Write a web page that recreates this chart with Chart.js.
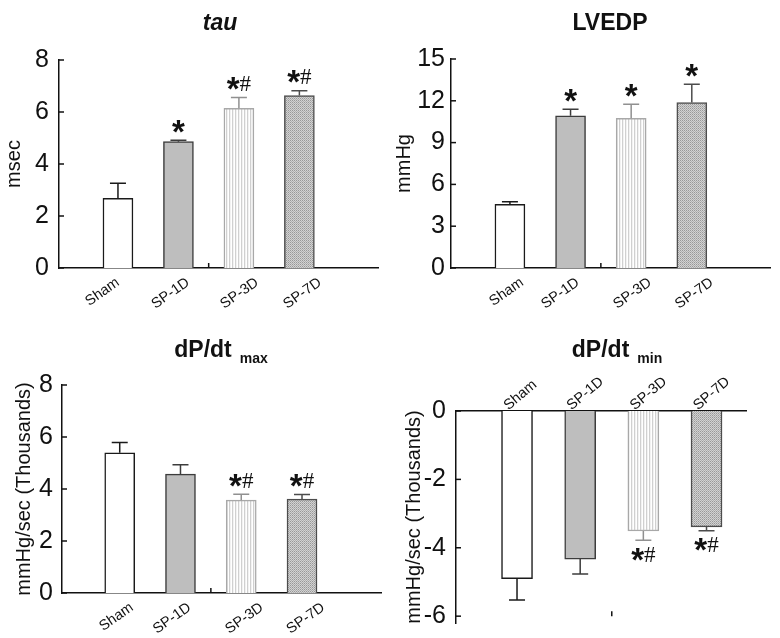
<!DOCTYPE html>
<html><head><meta charset="utf-8">
<script src="https://cdn.jsdelivr.net/npm/chart.js@4.4.0/dist/chart.umd.min.js"></script>
<style>
html,body{margin:0;padding:0;background:#fff;}
#wrap{position:relative;width:780px;height:638px;overflow:hidden;}
canvas{position:absolute;}
</style></head><body>
<div id="wrap">
<canvas id="c1" width="390" height="319" style="left:0;top:0"></canvas>
<canvas id="c2" width="390" height="319" style="left:390px;top:0"></canvas>
<canvas id="c3" width="390" height="319" style="left:0;top:319px"></canvas>
<canvas id="c4" width="390" height="330" style="left:390px;top:319px"></canvas>
</div>
<script>
// ---- data ----
const categories = ['Sham', 'SP-1D', 'SP-3D', 'SP-7D'];

const tauValues = [2.68, 4.86, 6.14, 6.63];
const tauErrors = [0.58, 0.05, 0.42, 0.19];
const tauMarks = ['', '*', '*#', '*#'];
const tauTicks = [0, 2, 4, 6, 8];

const lvedpValues = [4.57, 10.93, 10.74, 11.87];
const lvedpErrors = [0.19, 0.46, 1.01, 1.32];
const lvedpMarks = ['', '*', '*', '*'];
const lvedpTicks = [0, 3, 6, 9, 12, 15];

const dpdtMaxValues = [5.39, 4.57, 3.57, 3.61];
const dpdtMaxErrors = [0.40, 0.36, 0.23, 0.18];
const dpdtMaxMarks = ['', '', '*#', '*#'];
const dpdtMaxTicks = [0, 2, 4, 6, 8];

const dpdtMinValues = [-4.90, -4.33, -3.51, -3.39];
const dpdtMinErrors = [0.63, 0.44, 0.27, 0.11];
const dpdtMinMarks = ['', '', '*#', '*#'];
const dpdtMinTicks = [-6, -4, -2, 0];

// ---- styles ----
Chart.defaults.font.family = '"Liberation Sans", Arial, sans-serif';
Chart.defaults.color = '#111';

function makePattern(w, h, pixels) {
  const c = document.createElement('canvas');
  c.width = w; c.height = h;
  const g = c.getContext('2d');
  for (let y = 0; y < h; y++) for (let x = 0; x < w; x++) {
    g.fillStyle = pixels[y * w + x];
    g.fillRect(x, y, 1, 1);
  }
  return g.createPattern(c, 'repeat');
}
const stripePattern = makePattern(3, 1, ['#ffffff', '#d0d0d0', '#f2f2f2']);
const dotPattern = makePattern(2, 2, ['#989898', '#d2d2d2', '#d2d2d2', '#b0b0b0']);

const barFills = ['#ffffff', '#bebebe', stripePattern, dotPattern];
const barBorders = ['#1a1a1a', '#3c3c3c', '#a8a8a8', '#4c4c4c'];
const errColors = ['#1a1a1a', '#3c3c3c', '#909090', '#4c4c4c'];

function extrasPlugin(cfg) {
  return {
    id: 'extras',
    afterDatasetsDraw(chart) {
      const ctx = chart.ctx;
      const xs = chart.scales.x, ys = chart.scales.y;
      const area = chart.chartArea;
      const meta = chart.getDatasetMeta(0);
      ctx.save();
      // inward y ticks
      ctx.strokeStyle = '#111'; ctx.lineWidth = 1.5;
      cfg.yTicks.forEach(t => {
        const y = ys.getPixelForValue(t);
        ctx.beginPath(); ctx.moveTo(area.left, y); ctx.lineTo(area.left + 5, y); ctx.stroke();
      });
      // minor x tick
      const mx = xs.getPixelForValue(2.5);
      const my = ys.getPixelForValue(cfg.minorAt);
      ctx.beginPath(); ctx.moveTo(mx, my); ctx.lineTo(mx, my - 5); ctx.stroke();
      // error bars + marks
      meta.data.forEach((bar, i) => {
        const v = cfg.values[i], e = cfg.errors[i];
        const dir = v >= 0 ? 1 : -1;
        const yEnd = ys.getPixelForValue(v + dir * e);
        const x = bar.x;
        ctx.strokeStyle = errColors[i]; ctx.lineWidth = 1.5;
        ctx.beginPath();
        ctx.moveTo(x, bar.y); ctx.lineTo(x, yEnd);
        ctx.moveTo(x - 8, yEnd); ctx.lineTo(x + 8, yEnd);
        ctx.stroke();
        const mark = cfg.marks[i];
        if (!mark) return;
        const cy = yEnd - dir * 14;
        const parts = mark.split('').map(ch => ({
          ch, font: ch === '*' ? 'bold 33px "Liberation Sans"' : '23px "Liberation Serif"'
        }));
        parts.forEach(p => { ctx.font = p.font; p.m = ctx.measureText(p.ch); });
        const total = parts.reduce((s, p) => s + p.m.width, 0);
        let sx = x - total / 2;
        ctx.fillStyle = '#111';
        ctx.textAlign = 'left'; ctx.textBaseline = 'alphabetic';
        parts.forEach(p => {
          ctx.font = p.font;
          const asc = p.m.actualBoundingBoxAscent, desc = p.m.actualBoundingBoxDescent;
          ctx.fillText(p.ch, sx, cy + (asc - desc) / 2);
          sx += p.m.width;
        });
      });
      ctx.restore();
    },
    afterDraw(chart) {
      const ctx = chart.ctx;
      ctx.save();
      ctx.fillStyle = '#111';
      ctx.textAlign = 'left'; ctx.textBaseline = 'alphabetic';
      const mainFont = (cfg.italic ? 'italic ' : '') + 'bold 23px "Liberation Sans"';
      const subFont = 'bold 14px "Liberation Sans"';
      ctx.font = mainFont;
      const wMain = ctx.measureText(cfg.title).width;
      let wSub = 0, gap = 0;
      if (cfg.sub) { ctx.font = subFont; wSub = ctx.measureText(cfg.sub).width; gap = 8; }
      const sx = cfg.titleX - (wMain + gap + wSub) / 2;
      ctx.font = mainFont;
      ctx.fillText(cfg.title, sx, cfg.titleY);
      if (cfg.sub) { ctx.font = subFont; ctx.fillText(cfg.sub, sx + wMain + gap, cfg.titleY + 6); }
      ctx.restore();
    }
  };
}

function makeChart(id, c) {
  return new Chart(document.getElementById(id), {
    type: 'bar',
    data: {
      datasets: [{
        data: c.values.map((v, i) => ({ x: i + 1, y: v })),
        backgroundColor: barFills,
        borderColor: barBorders,
        borderWidth: 1.5,
        borderSkipped: 'start',
        barThickness: c.barW
      }]
    },
    options: {
      responsive: false,
      animation: false,
      events: [],
      layout: { padding: c.pad },
      plugins: { legend: { display: false }, tooltip: { enabled: false }, title: { display: false } },
      scales: {
        x: {
          type: 'linear', position: c.xPos, min: c.xMin, max: c.xMax, offset: false,
          afterBuildTicks: s => { s.ticks = categories.map((_, i) => ({ value: i + 1 + c.labelShift[i] })); },
          afterFit: s => { s.height = c.xH; },
          grid: { display: false, drawTicks: false },
          border: { display: true, color: '#111', width: 1.5 },
          ticks: {
            autoSkip: false, minRotation: c.rot, maxRotation: c.rot, padding: c.xPad,
            labelOffset: c.labelOffset, color: '#111',
            font: { size: 14.5 },
            callback: (v, i) => categories[i] || ''
          }
        },
        y: {
          type: 'linear', min: c.yMin, max: c.yMax,
          afterBuildTicks: s => { s.ticks = c.yTicks.map(v => ({ value: v })); },
          afterFit: s => { s.width = c.yW; },
          grid: { display: false, drawTicks: false },
          border: { display: true, color: '#111', width: 1.5 },
          ticks: { padding: c.yPad, color: '#111', font: { size: 25, lineHeight: 1 } },
          title: { display: true, text: c.yTitle, color: '#111', font: { size: 20 }, padding: { top: c.yTitlePad, bottom: 0 } }
        }
      }
    },
    plugins: [extrasPlugin(c)]
  });
}

makeChart('c1', {
  values: tauValues, errors: tauErrors, marks: tauMarks, yTicks: tauTicks,
  yMin: 0, yMax: 8, xMin: 0.025, xMax: 5.3, xPos: 'bottom', rot: 35, labelOffset: 0, xPad: 6,
  labelShift: [0, 0.16, 0.3, 0.34],
  pad: { left: 0, right: 12, top: 60, bottom: 0 }, yW: 59, xH: 51, barW: 30, yPad: 10,
  yTitle: 'msec', yTitlePad: 2, minorAt: 0,
  title: 'tau', italic: true, sub: '', titleX: 220, titleY: 30
});
makeChart('c2', {
  values: lvedpValues, errors: lvedpErrors, marks: lvedpMarks, yTicks: lvedpTicks,
  yMin: 0, yMax: 15, xMin: 0.028, xMax: 5.29, xPos: 'bottom', rot: 35, labelOffset: 0, xPad: 6,
  labelShift: [0.2, 0.12, 0.31, 0.33],
  pad: { left: 0, right: 10, top: 59, bottom: 0 }, yW: 61, xH: 51, barW: 30, yPad: 6,
  yTitle: 'mmHg', yTitlePad: 2, minorAt: 0,
  title: 'LVEDP', italic: false, sub: '', titleX: 220, titleY: 30
});
makeChart('c3', {
  values: dpdtMaxValues, errors: dpdtMaxErrors, marks: dpdtMaxMarks, yTicks: dpdtMaxTicks,
  yMin: 0, yMax: 8, xMin: 0.05, xMax: 5.3, xPos: 'bottom', rot: 35, labelOffset: 0, xPad: 6,
  labelShift: [0.2, 0.15, 0.34, 0.35],
  pad: { left: 0, right: 9, top: 66, bottom: 0 }, yW: 62, xH: 45, barW: 30, yPad: 9,
  yTitle: 'mmHg/sec (Thousands)', yTitlePad: 12, minorAt: 0,
  title: 'dP/dt', italic: false, sub: 'max', titleX: 221, titleY: 38
});
makeChart('c4', {
  values: dpdtMinValues, errors: dpdtMinErrors, marks: dpdtMinMarks, yTicks: dpdtMinTicks,
  yMin: -6.2, yMax: 0, xMin: 0.034, xMax: 4.625, xPos: 'top', rot: 40, labelOffset: 0, xPad: -3,
  labelShift: [0, 0, 0, 0],
  pad: { left: 0, right: 34, top: 52, bottom: 26 }, yW: 66, xH: 40, barW: 31, yPad: 10,
  yTitle: 'mmHg/sec (Thousands)', yTitlePad: 12, minorAt: -6,
  title: 'dP/dt', italic: false, sub: 'min', titleX: 227, titleY: 38
});
</script>
</body></html>
